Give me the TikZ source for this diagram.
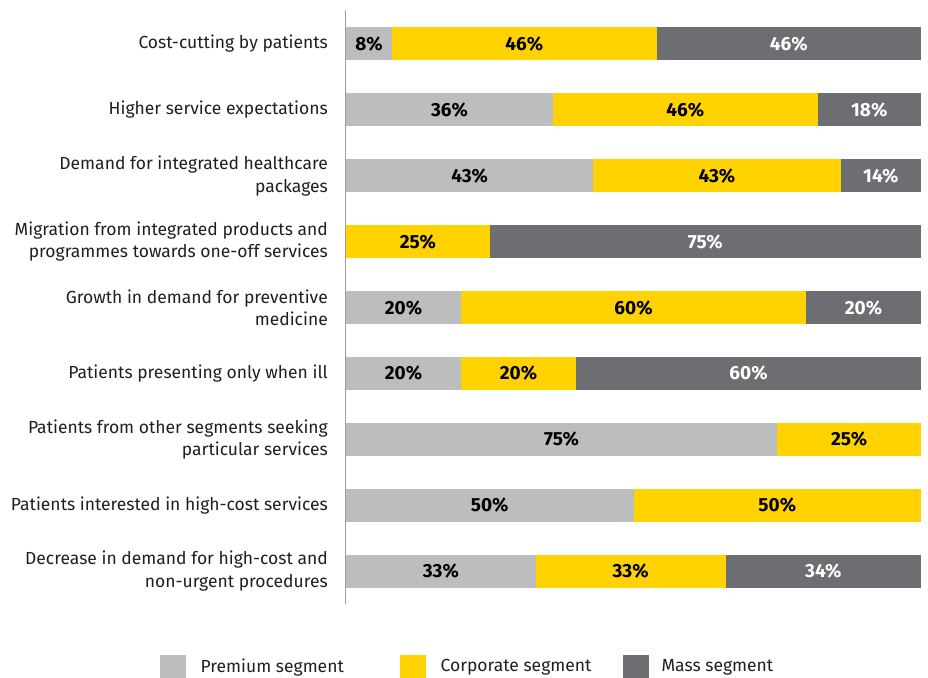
\documentclass[tikz,border=0pt]{standalone}
\usepackage{fontspec}
\setmainfont{Fira Sans}
\usetikzlibrary{positioning}

\definecolor{premium}{HTML}{BCBDBF}
\definecolor{corporate}{HTML}{FFD200}
\definecolor{mass}{HTML}{6D6E71}
\definecolor{axisgrey}{HTML}{A0A0A0}

\begin{document}
\begin{tikzpicture}[x=1pt, y=-1pt,
    rowlabel/.style={anchor=east, align=right, inner sep=0pt, text=black!88,
      font=\fontsize{17.5}{22.5}\selectfont},
    seg/.style={anchor=west, minimum height=33pt, inner sep=0pt, outer sep=0pt,
      font=\fontsize{19}{22}\selectfont\bfseries},
    key/.style={minimum width=26pt, minimum height=24pt, inner sep=0pt, anchor=north west},
    keytext/.style={anchor=west, inner sep=0pt, text=black!88,
      font=\fontsize{17.5}{20}\selectfont}]
  \useasboundingbox (0,0) rectangle (928,677);

  % one row per driver: premium / corporate / mass
  \foreach \lab/\p/\c/\m [count=\i] in {
      {Cost-cutting by patients}/8/46/46,
      {Higher service expectations}/36/46/18,
      {Demand for integrated healthcare\\packages}/43/43/14,
      {Migration from integrated products and\\programmes towards one-off services}/0/25/75,
      {Growth in demand for preventive\\medicine}/20/60/20,
      {Patients presenting only when ill}/20/20/60,
      {Patients from other segments seeking\\particular services}/75/25/0,
      {Patients interested in high-cost services}/50/50/0,
      {Decrease in demand for high-cost and\\non-urgent procedures}/33/33/34}{
    \pgfmathsetmacro{\ypos}{44+(\i-1)*65.9}
    \pgfmathsetmacro{\wp}{5.75*\p}
    \pgfmathsetmacro{\wc}{5.75*\c}
    \pgfmathsetmacro{\wm}{5.75*\m}
    \coordinate (s\i) at (346,\ypos);
    \node[rowlabel] (lab\i) at (328,\ypos) {\lab};
    \ifnum\p>0
      \node[seg, fill=premium, minimum width=\wp pt] (p\i) at (s\i) {\p\%};
      \coordinate (s\i) at (p\i.east);
    \fi
    \ifnum\c>0
      \node[seg, fill=corporate, minimum width=\wc pt] (c\i) at (s\i) {\c\%};
      \coordinate (s\i) at (c\i.east);
    \fi
    \ifnum\m>0
      \node[seg, fill=mass, text=white, minimum width=\wm pt] (m\i) at (s\i) {\m\%};
    \fi
  }

  % axis
  \draw[axisgrey, line width=1.5pt] (345.5,10) coordinate (top) -- (345.5,604) coordinate (bottom);

  % legend
  \node[key, fill=premium] (kp) at (160,655) {};
  \node[keytext, right=14pt of kp] (tp) {Premium segment};
  \node[key, fill=corporate] (kc) at (400,655) {};
  \node[keytext, right=14pt of kc] (tc) {Corporate segment};
  \node[key, fill=mass] (km) at (623,655) {};
  \node[keytext, right=12pt of km] (tm) {Mass segment};
\end{tikzpicture}
\end{document}
